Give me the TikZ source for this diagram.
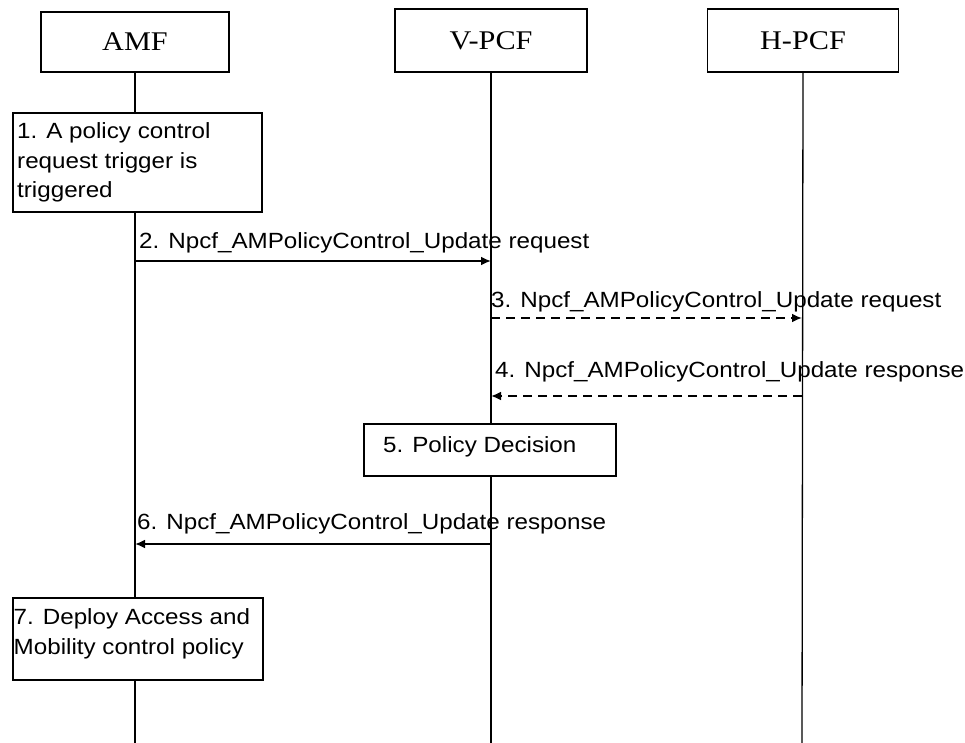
\documentclass[tikz,border=0pt]{standalone}
\usepackage{fontspec}
\usetikzlibrary{arrows.meta}
\newfontfamily\hdrfont[FakeStretch=1.12]{Liberation Serif}
\newfontfamily\lblfont[FakeStretch=1.1]{Liberation Sans}
\tikzset{
  entity/.style={draw, line width=1.8pt, fill=white, inner sep=0pt,
    font=\hdrfont\fontsize{27}{30}\selectfont},
  actbox/.style={draw, line width=1.8pt, fill=white, inner sep=0pt, anchor=north west},
  lbl/.style={inner sep=0pt, anchor=base west, align=left, font=\lblfont\fontsize{22}{29.5}\selectfont},
  life/.style={line width=1.3pt},
  msg/.style={line width=2.4pt, -{Latex[length=10pt,width=9pt]}},
  dmsg/.style={msg, dash pattern=on 9pt off 6pt},
}
\begin{document}
\begin{tikzpicture}[x=1pt,y=-1pt]
\useasboundingbox (0,0) rectangle (965,743);
\fill[white] (0,0) rectangle (965,743);
% lifeline ends
\coordinate (amfE) at (135,743);
\coordinate (vpcfE) at (491,743);
\coordinate (hpcfE) at (802,743);
% entities
\node[entity, minimum width=188pt, minimum height=60pt] (amf) at (135,42) {AMF};
\node[entity, minimum width=192pt, minimum height=63pt] (vpcf) at (491,40.5) {V-PCF};
\node[entity, minimum width=191pt, minimum height=63pt] (hpcf) at (803,40.5) {H-PCF};
\draw[life] (amf.south) -- (amfE);
\draw[life] (vpcf.south) -- (vpcfE);
\draw[life] (hpcf.south) -- (hpcfE);
% step 1
\node[actbox, minimum width=249pt, minimum height=99pt] (b1) at (12,112) {};
\node[lbl] (t1) at (17,198) {1. A policy control\\request trigger is\\triggered};
% step 2
\coordinate (m2s) at (135,261);
\coordinate (m2e) at (491,261);
\draw[msg] (m2s) -- (m2e);
\node[lbl] (t2) at (139,248) {2. Npcf\_AMPolicyControl\_Update request};
% step 3
\coordinate (m3s) at (491,318);
\coordinate (m3e) at (802,318);
\draw[dmsg] (m3s) -- (m3e);
\node[lbl] (t3) at (491,307) {3. Npcf\_AMPolicyControl\_Update request};
% step 4
\coordinate (m4s) at (802,396);
\coordinate (m4e) at (491,396);
\draw[dmsg] (m4s) -- (m4e);
\node[lbl] (t4) at (495,377) {4. Npcf\_AMPolicyControl\_Update response};
% step 5
\node[actbox, minimum width=252pt, minimum height=52pt] (b5) at (363,423) {};
\node[lbl] (t5) at (383,452) {5. Policy Decision};
% step 6
\coordinate (m6s) at (491,544);
\coordinate (m6e) at (135,544);
\draw[msg] (m6s) -- (m6e);
\node[lbl] (t6) at (137,529) {6. Npcf\_AMPolicyControl\_Update response};
% step 7
\node[actbox, minimum width=250pt, minimum height=82pt] (b7) at (12,597) {};
\node[lbl] (t7) at (13.5,654) {7. Deploy Access and\\Mobility control policy};
\end{tikzpicture}
\end{document}
